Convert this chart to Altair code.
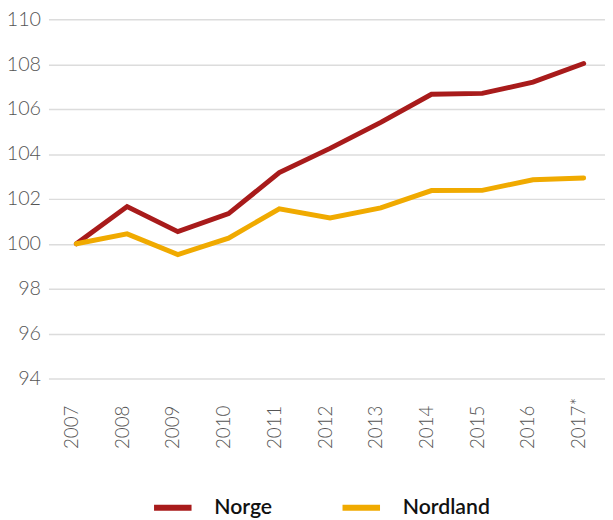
import altair as alt
import pandas as pd

years = [2007, 2008, 2009, 2010, 2011, 2012, 2013, 2014, 2015, 2016, 2017]
year_labels = ["2007", "2008", "2009", "2010", "2011", "2012", "2013", "2014", "2015", "2016", "2017*"]
norge = [100.0, 101.66, 100.54, 101.34, 103.17, 104.25, 105.41, 106.66, 106.70, 107.20, 108.03]
nordland = [100.0, 100.44, 99.52, 100.25, 101.56, 101.15, 101.60, 102.37, 102.38, 102.85, 102.93]
series = ["Norge", "Nordland"]
colors = ["#A81B1B", "#F0AA00"]
y_ticks = [94, 96, 98, 100, 102, 104, 106, 108, 110]

rows = []
for name, vals in zip(series, [norge, nordland]):
    for yr, v in zip(years, vals):
        rows.append({"year": yr, "value": v, "series": name})
df = pd.DataFrame(rows)

label_expr = " : ".join(
    f"datum.value == {y} ? '{l}'" for y, l in zip(years, year_labels)
) + " : ''"

chart = alt.Chart(df).mark_line(strokeWidth=5, strokeCap="round").encode(
    x=alt.X("year:Q",
            scale=alt.Scale(domain=[2006.45, 2017.42], nice=False, zero=False),
            axis=alt.Axis(values=years, labelExpr=label_expr, labelAngle=270,
                          labelAlign="left", labelBaseline="middle",
                          grid=False, domain=False, ticks=False, labelPadding=71,
                          labelOffset=-5,
                          title=None, labelFontSize=19, labelColor="#555555",
                          labelFont="Lato", labelFontWeight=300)),
    y=alt.Y("value:Q",
            scale=alt.Scale(domain=[94, 110], nice=False, zero=False),
            axis=alt.Axis(values=y_ticks, grid=True, gridColor="#dcdcdc", gridWidth=1.5,
                          domain=False, ticks=False, labelPadding=8, title=None,
                          labelFontSize=20, labelColor="#555555",
                          labelFont="Lato", labelFontWeight=300)),
    color=alt.Color("series:N",
                    scale=alt.Scale(domain=series, range=colors),
                    sort=series,
                    legend=alt.Legend(orient="none", legendX=104, legendY=473,
                                      direction="horizontal", title=None,
                                      symbolType="stroke", symbolStrokeWidth=6,
                                      symbolSize=1444, labelFontSize=21.5,
                                      labelFont="Lato", labelFontWeight=600,
                                      labelColor="#111111", columnPadding=59,
                                      labelOffset=20)),
).properties(
    width=564,
    height=364,
    autosize=alt.AutoSizeParams(type="none"),
    padding={"left": 41, "right": 0, "top": 8, "bottom": 140},
).configure_view(stroke=None)

chart.save("out.html", embed_options={"renderer": "svg", "actions": False})
